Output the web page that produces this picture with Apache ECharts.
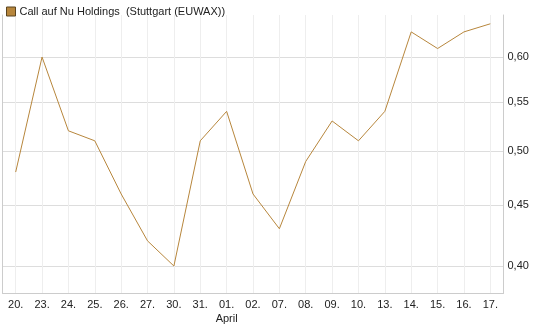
<!DOCTYPE html>
<html>
<head>
<meta charset="utf-8">
<script src="https://cdn.jsdelivr.net/npm/echarts@6/dist/echarts.min.js"></script>
<style>
html, body { margin: 0; padding: 0; background: #fff; }
#chart { width: 545px; height: 327px; }
</style>
</head>
<body>
<div id="chart"></div>
<script>
// Kurs-Daten (Maerz/April), y-Achse logarithmisch
const days = ['20.', '23.', '24.', '25.', '26.', '27.', '30.', '31.', '01.', '02.',
	'07.', '08.', '09.', '10.', '13.', '14.', '15.', '16.', '17.'];
const prices = [0.48, 0.60, 0.52, 0.51, 0.46, 0.42, 0.40, 0.51, 0.54, 0.46,
	0.43, 0.49, 0.53, 0.51, 0.54, 0.63, 0.61, 0.63, 0.64];
const yTicks = [0.40, 0.45, 0.50, 0.55, 0.60];
const seriesName = 'Call auf Nu Holdings  (Stuttgart (EUWAX))';

const lineColor = '#b7863c';
const ln = Math.log;
const xIdx = days.map((d, i)=> i);
const yMin = ln(0.3796);
const yMax = ln(0.651);

let chart = echarts.init(document.getElementById('chart'));
let option = {
	animation: false,
	textStyle: { fontFamily: 'Liberation Sans, Arial, sans-serif' },
	legend: {
		left: 1,
		top: 1,
		itemWidth: 9,
		itemHeight: 9,
		itemGap: 4,
		icon: 'rect',
		textStyle: { fontSize: 11, color: '#222', padding: [0, 0, 0, -1] },
		data: [{ name: seriesName, itemStyle: { color: lineColor, borderColor: '#5a4420', borderWidth: 1 } }],
	},
	grid: { left: 2.5, right: 41.5, top: 15, bottom: 34 },
	xAxis: {
		type: 'value',
		min: -0.5,
		max: days.length - 0.5,
		axisLine: { show: true, onZero: false, lineStyle: { color: '#cccccc' } },
		axisTick: { show: false, customValues: xIdx },
		axisLabel: {
			customValues: xIdx,
			fontSize: 11,
			color: '#222',
			margin: 6,
			formatter: (v)=> {
				let d = days[Math.round(v)];
				return d === '01.' ? d + '\n{m|April}' : d;
			},
			rich: { m: { fontSize: 11, color: '#222', padding: [3, 0, 0, 0] } },
		},
		splitLine: { show: true, lineStyle: { color: '#eeeeee' } },
	},
	yAxis: [
		{
			type: 'value',
			position: 'right',
			min: yMin,
			max: yMax,
			axisLine: { show: true, onZero: false, lineStyle: { color: '#cccccc' } },
			axisTick: { show: false, customValues: yTicks.map(ln) },
			axisLabel: {
				customValues: yTicks.map(ln),
				fontSize: 11,
				color: '#222',
				margin: 4,
				formatter: (v)=> Math.exp(v).toFixed(2).replace('.', ','),
			},
			splitLine: { show: true, lineStyle: { color: '#dddddd' } },
		},
		{
			type: 'value',
			position: 'left',
			min: yMin,
			max: yMax,
			axisLine: { show: true, onZero: false, lineStyle: { color: '#cccccc' } },
			axisTick: { show: false },
			axisLabel: { show: false },
			splitLine: { show: false },
		},
	],
	series: [
		{
			name: seriesName,
			type: 'line',
			yAxisIndex: 0,
			symbol: 'none',
			lineStyle: { color: lineColor, width: 1 },
			itemStyle: { color: lineColor },
			data: prices.map((p, i)=> [i, ln(p)]),
		},
	],
};
chart.setOption(option);
</script>
</body>
</html>
